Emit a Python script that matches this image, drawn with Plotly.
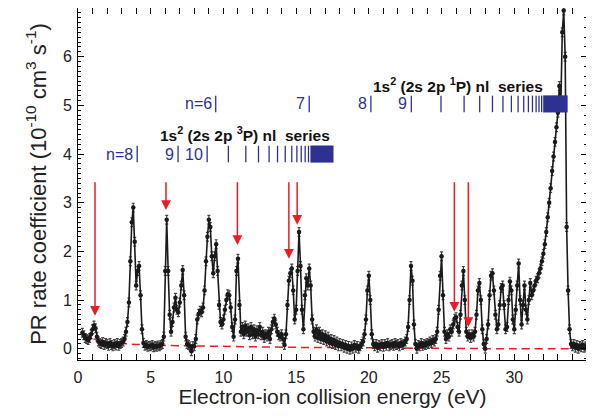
import numpy as np
import plotly.graph_objects as go

# ---------------- data ----------------
energy_start = 0.3
energy_step = 0.1
rate = [
    0.33, 0.28, 0.22, 0.20, 0.18, 0.22, 0.30,                      # 0.3-0.9
    0.40, 0.48, 0.42, 0.25, 0.15, 0.12, 0.10, 0.14, 0.08, 0.12,    # 1
    0.10, 0.06, 0.12, 0.08, 0.05, 0.10, 0.07, 0.12, 0.06, 0.10,    # 2
    0.12, 0.15, 0.20, 0.35, 0.55, 0.95, 1.80, 2.60, 2.90, 2.20,    # 3
    1.30, 1.60, 1.70, 1.10, 0.40, 0.12, 0.06, 0.08, 0.04, 0.06,    # 4
    0.05, 0.08, 0.03, 0.06, 0.04, 0.07, 0.05, 0.08, 0.10, 0.25,    # 5
    1.60, 2.65, 1.60, 0.70, 0.35, 0.55, 0.85, 1.05, 0.80, 0.75,    # 6
    0.95, 1.30, 1.62, 1.10, 0.25, 0.10, 0.08, 0.05, -0.05, 0.06,   # 7
    0.05, 0.20, 0.60, 0.72, 0.78, 0.75, 0.85, 1.20, 1.80, 2.30,    # 8
    2.65, 2.50, 1.90, 1.55, 1.90, 2.15, 1.60, 0.90, 0.55, 0.50,    # 9
    0.60, 0.80, 1.00, 1.12, 1.10, 0.85, 0.45, 0.25, 0.60, 1.60,    # 10
    1.85, 0.90, 0.35, 0.45, 0.30, 0.48, 0.35, 0.42, 0.28, 0.45,    # 11
    0.30, 0.40, 0.25, 0.38, 0.30, 0.45, 0.28, 0.35, 0.22, 0.30,    # 12
    0.25, 0.35, 0.20, 0.40, 0.55, 0.62, 0.50, 0.35, 0.28, 0.25,    # 13
    0.30, 0.20, 0.08, 0.30, 0.90, 1.40, 1.55, 1.65, 1.20, 0.60,    # 14
    0.80, 1.60, 2.40, 1.70, 0.80, 0.40, 1.10, 1.45, 1.30, 1.65,    # 15
    1.30, 0.60, 0.35, 0.25, 0.40, 0.22, 0.35, 0.20, 0.30, 0.18,    # 16
    0.28, 0.15, 0.25, 0.12, 0.20, 0.10, 0.18, 0.08, 0.15, 0.05,    # 17
    0.12, 0.05, 0.10, 0.02, 0.08, 0.00, 0.06, -0.02, 0.05, 0.00,   # 18
    0.08, 0.02, 0.06, 0.00, 0.05, 0.10, 0.15, 0.30, 0.60, 1.20,    # 19
    1.50, 1.00, 0.30, 0.10, 0.05, 0.10, 0.02, 0.08, 0.05, 0.10,    # 20
    0.04, 0.10, 0.06, 0.12, 0.05, 0.08, 0.10, 0.06, 0.12, 0.08,    # 21
    0.10, 0.05, 0.12, 0.08, 0.10, 0.15, 0.20, 0.45, 1.00, 1.70,    # 22
    1.40, 0.50, 0.10, 0.00, 0.08, 0.05, 0.12, 0.06, 0.10, 0.08,    # 23
    0.12, 0.10, 0.15, 0.12, 0.18, 0.15, 0.20, 0.35, 0.80, 1.50,    # 24
    1.90, 1.10, 0.35, 0.20, 0.30, 0.25, 0.40, 0.35, 0.50, 0.62,    # 25
    0.65, 0.45, 0.35, 0.70, 1.30, 1.60, 1.00, 0.35, 0.25, 0.30,    # 26
    0.22, 0.30, 0.25, 0.35, 0.70, 1.20, 1.35, 1.00, 0.40, 0.10,    # 27
    0.00, 0.20, 0.50, 1.10, 1.50, 1.55, 1.20, 0.70, 0.40, 0.50,    # 28
    0.90, 1.25, 1.30, 0.90, 0.40, 0.45, 1.00, 1.38, 1.20, 0.60,    # 29
    0.40, 0.80, 1.30, 1.75, 1.00, 0.50, 0.90, 1.30, 0.80, 0.60,    # 30
    1.00, 1.35, 1.10, 1.20, 1.30, 1.40, 1.45, 1.55, 1.65, 1.80,    # 31
    1.95, 2.15, 2.40, 2.70, 3.00, 3.30, 3.65, 3.95, 4.25, 4.55,    # 32
    4.85, 5.40, 5.00, 6.50, 6.95, 6.00, 2.50, 1.20, 0.40, 0.10,    # 33
    0.05, 0.10, 0.02, 0.08, 0.00, 0.06, 0.03, 0.08, 0.02, 0.05, 0.04,  # 34-35
]
rate_error = 0.09

bg_energy = [0.3, 0.6, 1.0, 1.5, 2.0, 3.0, 4.0, 6.0, 10.0, 15.0, 20.0, 25.0, 30.0, 35.0]
bg_rate = [0.34, 0.27, 0.21, 0.17, 0.14, 0.11, 0.09, 0.07, 0.05, 0.03, 0.02, 0.01, 0.0, 0.0]

arrow_energy = [1.17, 6.05, 10.96, 14.50, 15.07, 25.88, 26.84]
arrow_tip = [0.68, 2.85, 2.13, 1.85, 2.55, 0.76, 0.45]
arrow_top = 3.45

# Rydberg series positions (eV)
p3_lines = [4.07, 6.88, 8.88, 10.34, 11.54, 12.41, 13.14, 13.72, 14.25, 14.70,
            15.05, 15.35, 15.62, 15.85]
p3_block = [16.0, 17.55]
p3_row = 4.0
p3_labels = ["n=8", "9", "10"]

p1_lines = [9.47, 15.90, 20.14, 22.92, 24.96, 26.55, 27.62, 28.50, 29.22, 29.80,
            30.26, 30.65, 30.97, 31.25, 31.50, 31.70, 31.88]
p1_block = [32.0, 33.65]
p1_row = 5.03
p1_labels = ["n=6", "7", "8", "9"]

series_half_height = 0.17

p3_title = "1s<sup>2</sup> (2s 2p <sup>3</sup>P) nl  series"
p3_title_pos = (11.5, 4.41)
p1_title = "1s<sup>2</sup> (2s 2p <sup>1</sup>P) nl  series"
p1_title_pos = (26.1, 5.42)

x_title = "Electron-ion collision energy (eV)"
y_title = "PR rate coefficient (10<sup>-10</sup> cm<sup>3</sup> s<sup>-1</sup>)"

# ---------------- figure ----------------
energy = np.round(energy_start + energy_step * np.arange(len(rate)), 2)
BLUE = "#2E3192"
RED = "#ED1C24"
FONT = "Arial, Liberation Sans, sans-serif"

fig = go.Figure()

# background (dashed)
fig.add_trace(go.Scatter(x=bg_energy, y=bg_rate, mode="lines",
                         line=dict(color=RED, width=1.5, dash="8px,5px"),
                         line_shape="spline", hoverinfo="skip"))

# spectrum
fig.add_trace(go.Scatter(
    x=energy, y=rate, mode="lines+markers",
    line=dict(color="#1a1a1a", width=1.6),
    marker=dict(color="#1a1a1a", size=4.5, symbol="circle"),
    error_y=dict(type="constant", value=rate_error, color="#444444",
                 thickness=1.2, width=1.5),
))


def bar_trace(lines, block, row):
    xs, ys = [], []
    for e in lines:
        xs += [e, e, None]
        ys += [row - series_half_height, row + series_half_height, None]
    fig.add_trace(go.Scatter(x=xs, y=ys, mode="lines",
                             line=dict(color=BLUE, width=1.3), hoverinfo="skip"))
    fig.add_trace(go.Scatter(
        x=[block[0], block[1], block[1], block[0], block[0]],
        y=[row - series_half_height, row - series_half_height,
           row + series_half_height, row + series_half_height,
           row - series_half_height],
        mode="lines", fill="toself", fillcolor=BLUE,
        line=dict(color=BLUE, width=0.5), hoverinfo="skip"))


bar_trace(p3_lines, p3_block, p3_row)
bar_trace(p1_lines, p1_block, p1_row)

annotations = []
for lab, e in zip(p3_labels, p3_lines):
    annotations.append(dict(x=e, y=p3_row, text=lab, showarrow=False,
                            xanchor="right", yanchor="middle", xshift=-2,
                            font=dict(color=BLUE, size=16, family=FONT)))
for lab, e in zip(p1_labels, p1_lines):
    annotations.append(dict(x=e, y=p1_row, text=lab, showarrow=False,
                            xanchor="right", yanchor="middle", xshift=-2,
                            font=dict(color=BLUE, size=16, family=FONT)))
for txt, pos in [(p3_title, p3_title_pos), (p1_title, p1_title_pos)]:
    annotations.append(dict(x=pos[0], y=pos[1], text="<b>" + txt + "</b>",
                            showarrow=False, xanchor="center", yanchor="middle",
                            font=dict(color="#111111", size=15.5, family=FONT)))
for e, tip in zip(arrow_energy, arrow_tip):
    annotations.append(dict(x=e, y=tip, ax=e, ay=arrow_top, xref="x", yref="y",
                            axref="x", ayref="y", showarrow=True, text="",
                            arrowhead=2, arrowsize=1.3, arrowwidth=1.5,
                            arrowcolor=RED, standoff=0))

axis_common = dict(showline=True, linecolor="black", linewidth=1,
                   ticks="inside", tickcolor="black", showgrid=False,
                   zeroline=False, automargin=False,
                   tickfont=dict(size=16, family=FONT, color="#222222"))

# the page body adds an 8 px offset, so the figure is sized/margined to compensate
fig.update_layout(
    width=586, height=400,
    margin=dict(l=70, r=7, t=0, b=48),
    paper_bgcolor="white", plot_bgcolor="white",
    showlegend=False,
    annotations=annotations,
    xaxis=dict(range=[0, 35], dtick=5, tick0=0, ticklen=6, mirror="allticks",
               ticklabelstandoff=3,
               minor=dict(dtick=1, ticklen=3, ticks="inside", tickcolor="black"),
               title=dict(text=x_title, font=dict(size=21, family=FONT, color="#222222"),
                          standoff=4),
               **axis_common),
    yaxis=dict(range=[-0.23, 7.0], dtick=1, tick0=0, ticklen=6, mirror=True,
               ticklabelstandoff=2,
               minor=dict(dtick=0.1, ticklen=3, ticks="inside", tickcolor="black"),
               title=dict(text=y_title, font=dict(size=22, family=FONT, color="#222222"),
                          standoff=10),
               **axis_common),
    yaxis2=dict(range=[-0.23, 7.0], overlaying="y", side="right", dtick=1, tick0=0,
                ticks="inside", ticklen=6, tickcolor="black", showticklabels=False,
                showgrid=False, zeroline=False, showline=False, automargin=False,
                minor=dict(dtick=0.2, ticklen=3, ticks="inside", tickcolor="black")),
)
fig.add_trace(go.Scatter(x=[None], y=[None], yaxis="y2", hoverinfo="skip"))

fig.write_html("out.html")
